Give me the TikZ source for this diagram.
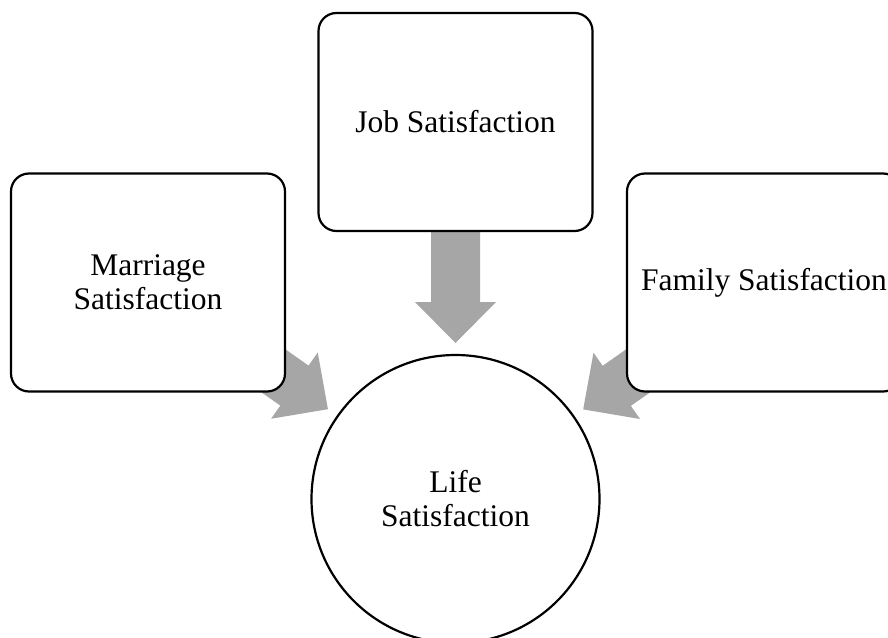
\documentclass[tikz,border=0pt]{standalone}
\usepackage{fontspec}
\setmainfont{Liberation Serif}
\usetikzlibrary{calc,backgrounds}
\definecolor{arrowgray}{HTML}{A6A6A6}

\tikzset{
  labelfont/.style={font=\fontsize{15.75pt}{17pt}\selectfont},
  satbox/.style={draw=black, line width=1.1pt, fill=white, rounded corners=9pt,
    minimum width=137pt, minimum height=109pt, inner sep=0pt, align=center, labelfont},
  hub/.style={draw=black, line width=1.1pt, fill=white, circle, minimum size=144pt,
    inner sep=0pt, align=center, labelfont}
}

% Block arrow pointing from a source node towards a target node.
% #1 source, #2 target, #3 prefix for helper coordinates
\newcommand{\feedarrow}[3]{%
  \coordinate (#3-tip)  at ($(#2.center)!78pt!(#1.center)$);
  \coordinate (#3-base) at ($(#3-tip)!20.5pt!(#1.center)$);
  \coordinate (#3-end)  at ($(#3-tip)!75pt!(#1.center)$);
  \fill[arrowgray] (#3-tip)
    -- ($(#3-base)!20.25pt!90:(#1.center)$)
    -- ($(#3-base)!12.25pt!90:(#1.center)$)
    -- ($(#3-end)!12.25pt!90:(#1.center)$)
    -- ($(#3-end)!12.25pt!-90:(#1.center)$)
    -- ($(#3-base)!12.25pt!-90:(#1.center)$)
    -- ($(#3-base)!20.25pt!-90:(#1.center)$)
    -- cycle;
}

\begin{document}
\begin{tikzpicture}[x=0.5pt, y=-0.5pt]
  \useasboundingbox (0,0) rectangle (888,637);

  \node[satbox] (job)      at (455.5,122)   {Job Satisfaction};
  \node[satbox] (marriage) at (148,282.5)   {Marriage\\Satisfaction};
  \node[satbox] (family)   at (764,282.5)   {Family Satisfaction};
  \node[hub]    (life)     at (455.5,499)   {Life\\Satisfaction};

  \begin{scope}[on background layer]
    \feedarrow{job}{life}{aj}
    \feedarrow{marriage}{life}{am}
    \feedarrow{family}{life}{af}
  \end{scope}
\end{tikzpicture}
\end{document}
